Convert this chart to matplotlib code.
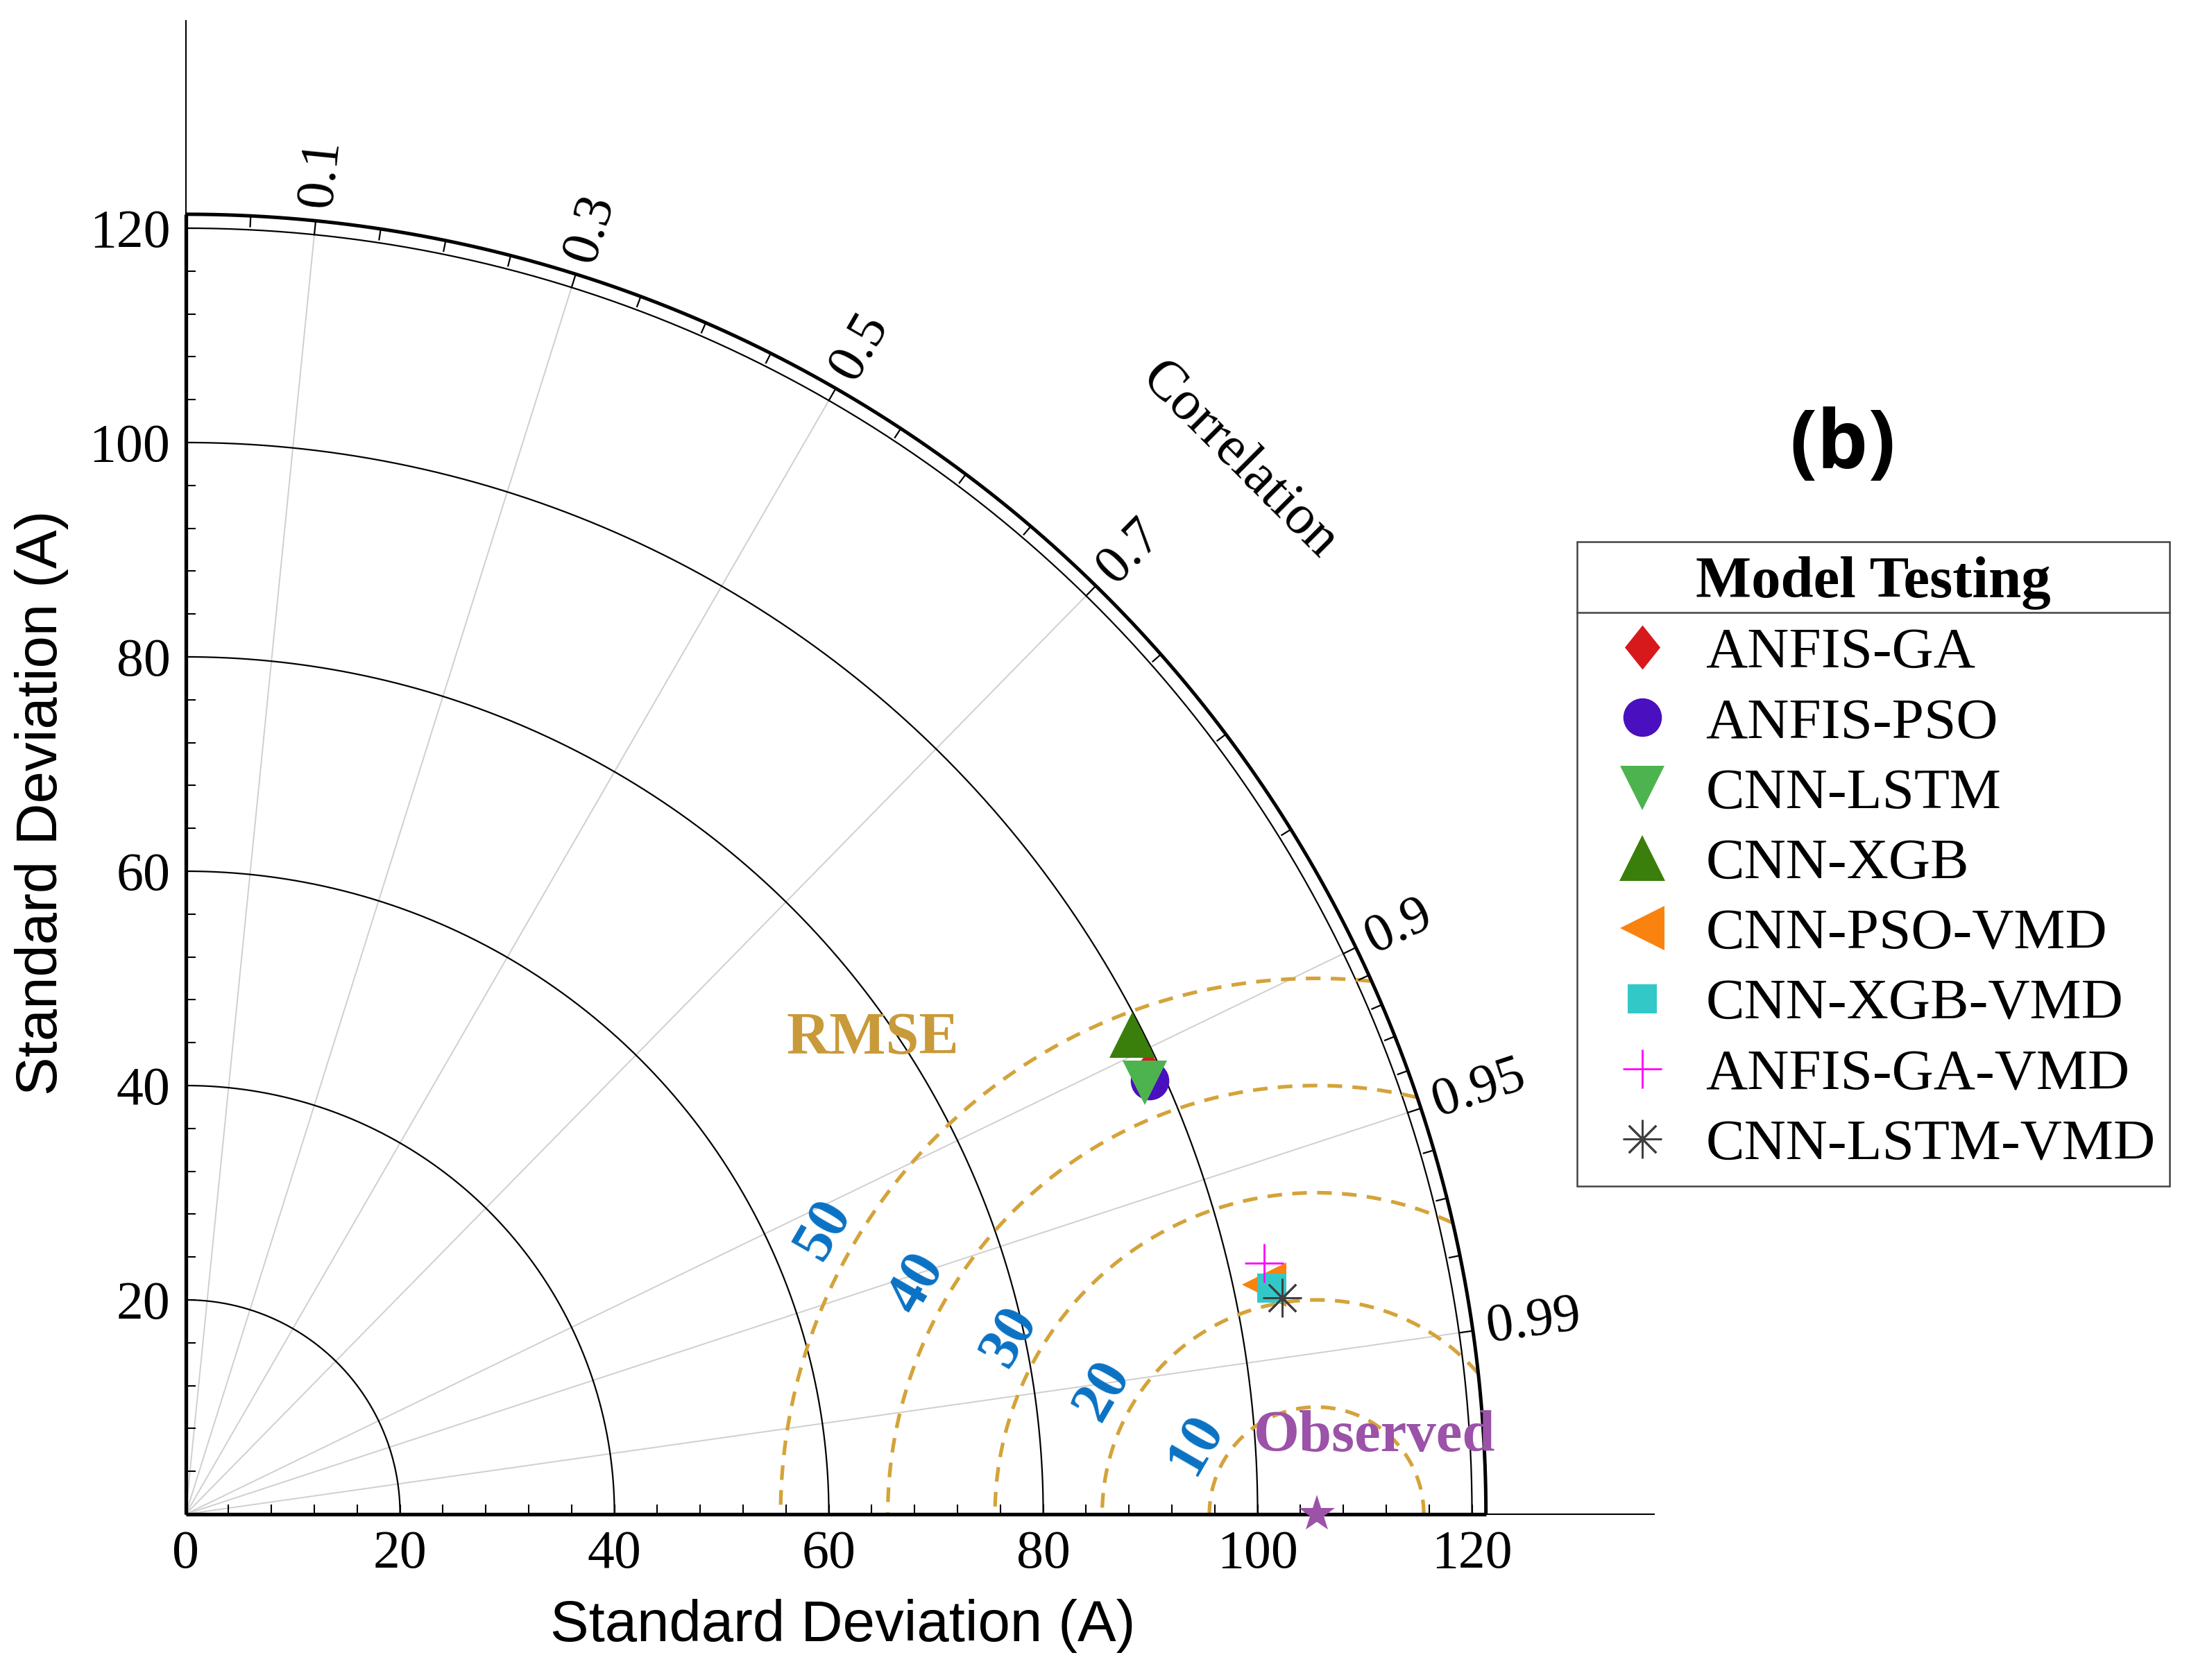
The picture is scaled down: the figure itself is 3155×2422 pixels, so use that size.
import numpy as np
import matplotlib
matplotlib.use("Agg")
import matplotlib.pyplot as plt
from matplotlib.lines import Line2D

# ---------------- data ----------------
models = ["ANFIS-GA", "ANFIS-PSO", "CNN-LSTM", "CNN-XGB",
          "CNN-PSO-VMD", "CNN-XGB-VMD", "ANFIS-GA-VMD", "CNN-LSTM-VMD"]
std_dev = [98.8, 98.6, 98.1, 99.0, 102.85, 103.5, 103.3, 104.25]
correlation = [0.909, 0.912, 0.912, 0.892, 0.978, 0.979, 0.974, 0.981]
obs_std = 105.5

sd_ticks = [0, 20, 40, 60, 80, 100, 120]
sd_arcs = [20, 40, 60, 80, 100, 120]
corr_labels = [0.1, 0.3, 0.5, 0.7, 0.9, 0.95, 0.99]
corr_minor = [0.05, 0.15, 0.2, 0.25, 0.35, 0.4, 0.45, 0.55, 0.6, 0.65, 0.75,
              0.8, 0.85, 0.91, 0.92, 0.93, 0.94, 0.96, 0.97, 0.98]
rmse_levels = [10, 20, 30, 40, 50]

# ---------------- style ----------------
tall_diamond = [(0, 1), (0.8, 0), (0, -1), (-0.8, 0), (0, 1)]
mk = [tall_diamond, "o", "v", "^", "<", "s", "+", (8, 2, 0)]
mcol = ["#D7191C", "#4A0FBE", "#4DB34F", "#3A7E0B",
        "#FA820F", "#33C8C8", "#FF00FF", "#404040"]
msz = [46, 40, 46, 47, 46, 30, 40, 40]
mew = [0, 0, 0, 0, 0, 0, 2.0, 2.0]

plt.rcParams["font.family"] = ["Liberation Serif", "DejaVu Serif"]
SERIF = "Liberation Serif"
GOLD = "#D4A33A"
BLUE = "#0A72C4"
PURPLE = "#9B52A8"

W, H, DPI = 3155, 2422, 100
fig = plt.figure(figsize=(W / DPI, H / DPI), dpi=DPI)
ax = fig.add_axes([0.08482, 0.09868, 0.67068, 0.88893])
XMAX, YMAX = 136.96, 139.35
ax.set_xlim(0, XMAX)
ax.set_ylim(0, YMAX)

R = 120.0
R_OUT = 121.3

# spines
for s in ["top", "right"]:
    ax.spines[s].set_visible(False)
for s in ["left", "bottom"]:
    ax.spines[s].set_linewidth(1.5)
ax.plot([0, R_OUT], [0, 0], color="black", lw=3.8, clip_on=False, zorder=6,
        solid_capstyle="butt")
ax.plot([0, 0], [0, R_OUT], color="black", lw=3.8, clip_on=False, zorder=6,
        solid_capstyle="butt")

# ticks
ax.set_xticks(sd_ticks)
ax.set_xticks(np.arange(0, 121, 4), minor=True)
ax.set_yticks(sd_ticks[1:])
ax.set_yticks(np.arange(0, 121, 4), minor=True)
ax.tick_params(which="both", direction="in", length=10, width=1.5, color="black")
ax.tick_params(axis="x", which="major", labelsize=56, pad=16)
ax.tick_params(axis="y", which="major", labelsize=56, pad=16)

# SD arcs
th = np.linspace(0, np.pi / 2, 500)
for r in sd_arcs:
    ax.plot(r * np.cos(th), r * np.sin(th), color="black", lw=1.6, zorder=2)
ax.plot(R_OUT * np.cos(th), R_OUT * np.sin(th), color="black", lw=3.6, zorder=3)

# correlation rays and labels
for c in corr_labels:
    a = np.arccos(c)
    ax.plot([0, R * np.cos(a)], [0, R * np.sin(a)], color="#CFCFCF", lw=1.4, zorder=1)
    ax.plot([R * np.cos(a), R_OUT * np.cos(a)], [R * np.sin(a), R_OUT * np.sin(a)],
            color="black", lw=1.6, zorder=3)
    ax.text(122.6 * np.cos(a), 122.6 * np.sin(a), f"{c:g}", rotation=np.degrees(a),
            rotation_mode="anchor", ha="left", va="center", fontsize=56,
            family=SERIF, clip_on=False)
for c in corr_minor:
    a = np.arccos(c)
    ax.plot([120.3 * np.cos(a), R_OUT * np.cos(a)], [120.3 * np.sin(a), R_OUT * np.sin(a)],
            color="black", lw=1.6, zorder=3)
ax.text(139.0 * np.cos(np.pi / 4), 139.0 * np.sin(np.pi / 4), "Correlation",
        rotation=-45, rotation_mode="anchor", ha="center", va="center",
        fontsize=58, family=SERIF)

# RMSE contours
t = np.linspace(0, np.pi, 800)
for r in rmse_levels:
    x = obs_std + r * np.cos(t)
    y = r * np.sin(t)
    m = np.hypot(x, y) > R_OUT
    x = np.where(m, np.nan, x)
    y = np.where(m, np.nan, y)
    ax.plot(x, y, color=GOLD, lw=3.8, ls=(0, (4, 2.8)), zorder=2)
    ang = np.radians(150)
    ax.text(obs_std + (r + 3.0) * np.cos(ang), (r + 3.0) * np.sin(ang), f"{r}",
            rotation=60, rotation_mode="anchor", ha="center", va="center",
            fontsize=61, fontweight="bold", color=BLUE, family=SERIF)
ax.text(64.1, 44.3, "RMSE", ha="center", va="center", fontsize=62,
        fontweight="bold", color="#C99A3A", family=SERIF)

# observed
ax.plot([obs_std], [0], marker="*", ms=40, color=PURPLE, mew=0, clip_on=False, zorder=9)
ax.text(110.9, 7.2, "Observed", ha="center", va="center", fontsize=61,
        fontweight="bold", color=PURPLE, family=SERIF, zorder=8)

# models
handles = []
for i, name in enumerate(models):
    s = std_dev[i]
    c = correlation[i]
    x = s * c
    y = s * np.sqrt(1 - c ** 2)
    h, = ax.plot([x], [y], ls="none", marker=mk[i], ms=msz[i], color=mcol[i],
                 mec=mcol[i], mew=mew[i], label=name, zorder=10 + i)
    handles.append(h)

# labels
ax.set_xlabel("Standard Deviation (A)", fontsize=60, family="Liberation Sans")
ax.xaxis.set_label_coords(0.4476, -0.0748)
ax.xaxis.label.set_va("center")
ax.set_ylabel("Standard Deviation (A)", fontsize=60, family="Liberation Sans")
ax.yaxis.set_label_coords(-0.0981, 0.4765)
ax.yaxis.label.set_va("center")

fig.text(0.8418, 0.734, "(b)", ha="center", va="center", fontsize=84,
         fontweight="bold", family="Open Sans")

leg = fig.legend(handles=handles, loc="upper left", bbox_to_anchor=(0.7205, 0.6775),
                 bbox_transform=fig.transFigure, prop={"family": SERIF, "size": 60},
                 title="Model Testing",
                 title_fontproperties={"family": SERIF, "size": 61, "weight": "bold"},
                 frameon=True, fancybox=False, edgecolor="#444444", framealpha=1,
                 borderpad=0.25, labelspacing=0.30, handletextpad=0.22,
                 handlelength=1.75, borderaxespad=0, markerscale=1)
leg.get_frame().set_linewidth(1.8)

fig.canvas.draw()
r = fig.canvas.get_renderer()
fb = leg.get_frame().get_window_extent(r)
tb = leg.get_title().get_window_extent(r)
yline = tb.y0 - 4
sep = Line2D([fb.x0 / W, fb.x1 / W], [yline / H, yline / H],
             transform=fig.transFigure, color="#444444", lw=1.8, zorder=20)
fig.add_artist(sep)

fig.savefig("out.png", dpi=DPI)
